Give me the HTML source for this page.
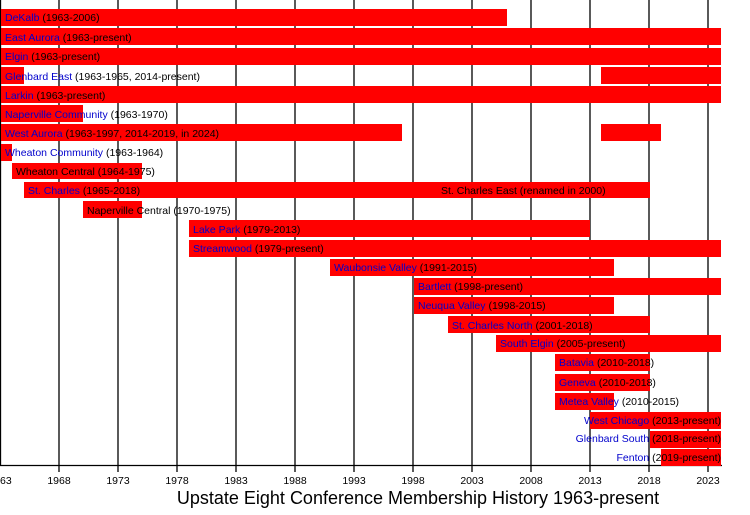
<!DOCTYPE html>
<html><head><meta charset="utf-8"><style>body{margin:0;background:#fff}svg{display:block}text{font-family:"Liberation Sans",sans-serif}</style></head><body>
<svg width="750" height="515" xmlns="http://www.w3.org/2000/svg">
<g stroke="#000" stroke-width="1.3">
<line x1="0.5" y1="0" x2="0.5" y2="466"/>
<line x1="59" y1="0" x2="59" y2="472"/><line x1="118" y1="0" x2="118" y2="472"/><line x1="177" y1="0" x2="177" y2="472"/><line x1="236" y1="0" x2="236" y2="472"/><line x1="295" y1="0" x2="295" y2="472"/><line x1="354" y1="0" x2="354" y2="472"/><line x1="413" y1="0" x2="413" y2="472"/><line x1="472" y1="0" x2="472" y2="472"/><line x1="531" y1="0" x2="531" y2="472"/><line x1="590" y1="0" x2="590" y2="472"/><line x1="649" y1="0" x2="649" y2="472"/><line x1="708" y1="0" x2="708" y2="472"/>
<line x1="0" y1="465.5" x2="722" y2="465.5"/>
</g>
<g fill="#f00">
<rect x="1" y="9" width="506" height="17"/>
<rect x="1" y="28" width="720" height="17"/>
<rect x="1" y="48" width="720" height="17"/>
<rect x="1" y="67" width="23" height="17"/><rect x="601" y="67" width="120" height="17"/>
<rect x="1" y="86" width="720" height="17"/>
<rect x="1" y="105" width="82" height="17"/>
<rect x="1" y="124" width="401" height="17"/><rect x="601" y="124" width="60" height="17"/>
<rect x="1" y="144" width="11" height="17"/>
<rect x="12" y="163" width="130" height="16"/>
<rect x="24" y="182" width="626" height="16"/>
<rect x="83" y="201" width="59" height="17"/>
<rect x="189" y="220" width="401" height="17"/>
<rect x="189" y="240" width="532" height="17"/>
<rect x="330" y="259" width="284" height="17"/>
<rect x="414" y="278" width="307" height="17"/>
<rect x="414" y="297" width="200" height="17"/>
<rect x="448" y="316" width="202" height="17"/>
<rect x="496" y="335" width="225" height="17"/>
<rect x="555" y="354" width="95" height="17"/>
<rect x="555" y="374" width="95" height="17"/>
<rect x="555" y="393" width="59" height="17"/>
<rect x="590" y="412" width="131" height="17"/>
<rect x="650" y="431" width="71" height="17"/>
<rect x="661" y="449" width="60" height="17"/>
</g>
<g font-size="10.5" fill="#000">
<text x="5" y="21"><tspan fill="#00c">DeKalb</tspan> (1963-2006)</text>
<text x="5" y="41"><tspan fill="#00c">East Aurora</tspan> (1963-present)</text>
<text x="5" y="60"><tspan fill="#00c">Elgin</tspan> (1963-present)</text>
<text x="5" y="80"><tspan fill="#00c">Glenbard East</tspan> (1963-1965, 2014-present)</text>
<text x="5" y="99"><tspan fill="#00c">Larkin</tspan> (1963-present)</text>
<text x="5" y="118"><tspan fill="#00c">Naperville Community</tspan> (1963-1970)</text>
<text x="5" y="137"><tspan fill="#00c">West Aurora</tspan> (1963-1997, 2014-2019, in 2024)</text>
<text x="5" y="156"><tspan fill="#00c">Wheaton Community</tspan> (1963-1964)</text>
<text x="16" y="175">Wheaton Central (1964-1975)</text>
<text x="28" y="194"><tspan fill="#00c">St. Charles</tspan> (1965-2018)</text>
<text x="441" y="194">St. Charles East (renamed in 2000)</text>
<text x="87" y="214">Naperville Central (1970-1975)</text>
<text x="193" y="233"><tspan fill="#00c">Lake Park</tspan> (1979-2013)</text>
<text x="193" y="252"><tspan fill="#00c">Streamwood</tspan> (1979-present)</text>
<text x="334" y="271"><tspan fill="#00c">Waubonsie Valley</tspan> (1991-2015)</text>
<text x="418" y="290"><tspan fill="#00c">Bartlett</tspan> (1998-present)</text>
<text x="418" y="309"><tspan fill="#00c">Neuqua Valley</tspan> (1998-2015)</text>
<text x="452" y="329"><tspan fill="#00c">St. Charles North</tspan> (2001-2018)</text>
<text x="500" y="347"><tspan fill="#00c">South Elgin</tspan> (2005-present)</text>
<text x="559" y="366"><tspan fill="#00c">Batavia</tspan> (2010-2018)</text>
<text x="559" y="386"><tspan fill="#00c">Geneva</tspan> (2010-2018)</text>
<text x="559" y="405"><tspan fill="#00c">Metea Valley</tspan> (2010-2015)</text>
<text x="721" y="424" text-anchor="end"><tspan fill="#00c">West Chicago</tspan> (2013-present)</text>
<text x="721" y="442" text-anchor="end"><tspan fill="#00c">Glenbard South</tspan> (2018-present)</text>
<text x="721" y="461" text-anchor="end"><tspan fill="#00c">Fenton</tspan> (2019-present)</text>
</g>
<g font-size="10.5" fill="#000" text-anchor="middle">
<text x="0" y="484" text-anchor="start">63</text><text x="59" y="484">1968</text><text x="118" y="484">1973</text><text x="177" y="484">1978</text><text x="236" y="484">1983</text><text x="295" y="484">1988</text><text x="354" y="484">1993</text><text x="413" y="484">1998</text><text x="472" y="484">2003</text><text x="531" y="484">2008</text><text x="590" y="484">2013</text><text x="649" y="484">2018</text><text x="708" y="484">2023</text>
</g>
<text x="418" y="504" font-size="18" text-anchor="middle">Upstate Eight Conference Membership History 1963-present</text>
</svg>
</body></html>
